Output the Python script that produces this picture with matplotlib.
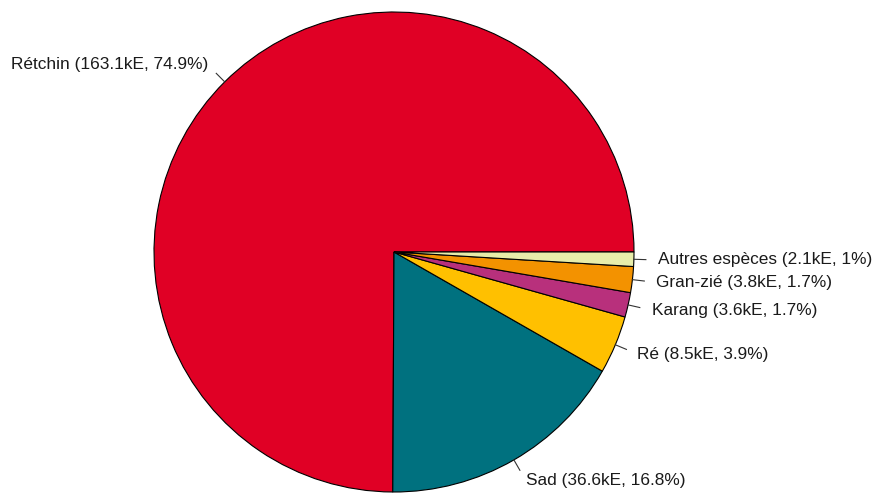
import numpy as np
import matplotlib.pyplot as plt

# catch by species (thousands), order as drawn counterclockwise from 3 o'clock
species = ['Rétchin', 'Sad', 'Ré', 'Karang', 'Gran-zié', 'Autres espèces']
catch_ke = [163.1, 36.6, 8.5, 3.6, 3.8, 2.1]
pct = ['74.9', '16.8', '3.9', '1.7', '1.7', '1']
colors = ['#E00025', '#00717F', '#FFC000', '#B8307C', '#F39200', '#E8EDAA']

labels = [f'{s} ({v}kE, {p}%)' for s, v, p in zip(species, catch_ke, pct)]

plt.rcParams['font.family'] = ['Liberation Sans', 'DejaVu Sans']

fig = plt.figure(figsize=(8.78, 4.93), dpi=100)
ax = fig.add_axes([0, 0, 1, 1])

wedges, texts = ax.pie(catch_ke, colors=colors, startangle=0, counterclock=True,
                       labels=labels, labeldistance=1.1,
                       wedgeprops=dict(edgecolor='black', linewidth=0.8),
                       textprops=dict(fontsize=12.4, color='#1a1a1a'))

# short tick lines like R's pie()
for w in wedges:
    a = np.deg2rad((w.theta1 + w.theta2) / 2)
    ax.plot([np.cos(a), 1.05 * np.cos(a)], [np.sin(a), 1.05 * np.sin(a)],
            color='#333333', lw=0.8)
for t in texts:
    t.set_va('center')

r_px = 240
cx, cy = 394, 252
ax.set_xlim(-cx / r_px, (878 - cx) / r_px)
ax.set_ylim(-(493 - cy) / r_px, cy / r_px)
ax.set_aspect('auto')
ax.axis('off')

fig.savefig('out.png', dpi=100)
